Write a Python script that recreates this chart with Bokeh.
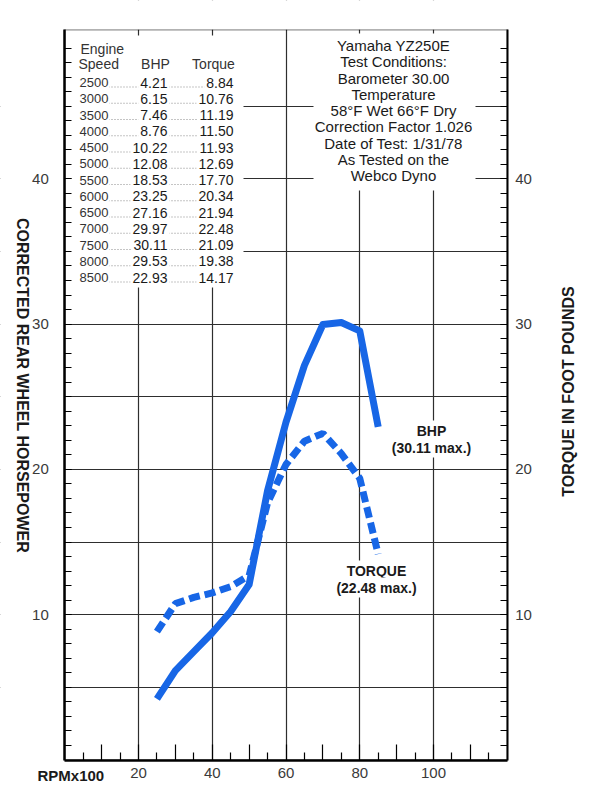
import math
from bokeh.plotting import figure
from bokeh.models import FixedTicker, LinearAxis, Label, Range1d, ColumnDataSource, BoxAnnotation
from bokeh.core.properties import value
from bokeh.embed import file_html
from bokeh.resources import INLINE

# ---------------- data ----------------
rpm_x100 = [25, 30, 35, 40, 45, 50, 55, 60, 65, 70, 75, 80, 85]
engine_speed = [2500, 3000, 3500, 4000, 4500, 5000, 5500, 6000, 6500, 7000, 7500, 8000, 8500]
bhp = [4.21, 6.15, 7.46, 8.76, 10.22, 12.08, 18.53, 23.25, 27.16, 29.97, 30.11, 29.53, 22.93]
torque = [8.84, 10.76, 11.19, 11.50, 11.93, 12.69, 17.70, 20.34, 21.94, 22.48, 21.09, 19.38, 14.17]

x_min, x_max = 0, 120
y_min, y_max = 0, 50.25
x_labeled_ticks = [20, 40, 60, 80, 100]
y_labeled_ticks = [10, 20, 30, 40]

info_lines = [
    "Yamaha YZ250E",
    "Test Conditions:",
    "Barometer 30.00",
    "Temperature",
    "58\u00b0F Wet 66\u00b0F Dry",
    "Correction Factor 1.026",
    "Date of Test: 1/31/78",
    "As Tested on the",
    "Webco Dyno",
]
bhp_note = ["BHP", "(30.11 max.)"]
torque_note = ["TORQUE", "(22.48 max.)"]
x_title = "RPMx100"
left_title = "CORRECTED REAR WHEEL HORSEPOWER"
right_title = "TORQUE IN FOOT POUNDS"

# ---------------- style ----------------
FONT = "Liberation Sans"
BLUE = "#1766e6"
GRID = "#2e2e2e"
INK = "#1a1a1a"
W, H = 584, 784

# picture-pixel -> data helpers (placing annotations only)
X0_PX, PX_PER_X = 64.25, 3.6875
Y0_PX, PX_PER_Y = 759.5, 14.53
def dx(px):
    return (px - X0_PX) / PX_PER_X
def dy(py):
    return (Y0_PX - py) / PX_PER_Y

# the frame covers the whole canvas; axes sit at fixed data locations
p = figure(width=W, height=H, x_range=Range1d(dx(0), dx(W)), y_range=Range1d(dy(H), dy(0)),
           output_backend="svg", toolbar_location=None, min_border=0)
p.background_fill_color = "white"
p.border_fill_color = "white"
p.outline_line_color = None

# grids
p.xgrid.ticker = FixedTicker(ticks=x_labeled_ticks)
p.ygrid.ticker = FixedTicker(ticks=list(range(5, 50, 5)))
for g in (p.xgrid, p.ygrid):
    g.grid_line_color = GRID
    g.grid_line_width = 1.2

# white masks outside the chart area (hide grid lines there)
XL, XR, YB, YT = dx(0), dx(W), dy(H), dy(0)
p.quad(left=[XL, x_max, XL, XL], right=[x_min, XR, XR, XR],
       bottom=[YB, YB, YB, y_max], top=[YT, YT, y_min, YT],
       fill_color="white", line_color=None)

# bottom axis
xa = p.xaxis[0]
xa.fixed_location = y_min
xa.bounds = (x_min, x_max)
xa.ticker = FixedTicker(ticks=list(range(10, 120, 10)), minor_ticks=list(range(5, 120, 10)))
xa.major_label_overrides = {t: "" for t in range(10, 120, 10) if t not in x_labeled_ticks}
xa.major_tick_in = 16
xa.major_tick_out = 0
xa.minor_tick_in = 8
xa.minor_tick_out = 0
xa.axis_line_width = 2.5
xa.major_label_standoff = 8

# left axis
ya = p.yaxis[0]
ya.fixed_location = x_min
ya.bounds = (y_min, y_max)
ya.ticker = FixedTicker(ticks=y_labeled_ticks, minor_ticks=list(range(1, 50)))
ya.major_tick_in = 7
ya.major_tick_out = 0
ya.minor_tick_in = 7
ya.minor_tick_out = 0
ya.axis_line_width = 2.5
ya.major_label_standoff = 16

# right axis
ra = LinearAxis(ticker=FixedTicker(ticks=y_labeled_ticks, minor_ticks=list(range(1, 50))),
                fixed_location=x_max, bounds=(y_min, y_max))
ra.major_tick_in = 7
ra.major_tick_out = 0
ra.minor_tick_in = 7
ra.minor_tick_out = 0
ra.axis_line_width = 2
ra.major_label_standoff = 8
p.add_layout(ra, "right")

for ax in (xa, ya, ra):
    ax.axis_line_color = "black"
    ax.major_tick_line_color = "black"
    ax.minor_tick_line_color = "black"
    ax.major_tick_line_width = 1.2
    ax.minor_tick_line_width = 1.2
    ax.major_label_text_font = FONT
    ax.major_label_text_font_size = "15px"
    ax.major_label_text_color = "#3a3a3a"

# chart border (top and right edges)
p.add_layout(BoxAnnotation(left=x_min, right=x_max, bottom=y_min, top=y_max,
                           fill_alpha=0, line_color="black", line_width=1.6))

# white panels behind the table and the test-conditions box
p.quad(left=[x_min], right=[dx(243)], bottom=[dy(287)], top=[dy(35)],
       fill_color="white", line_color=None)
p.quad(left=[dx(313)], right=[dx(475)], bottom=[dy(190)], top=[dy(33)],
       fill_color="white", line_color=None)

# curves
p.line(rpm_x100, bhp, line_color=BLUE, line_width=7, line_join="round")
p.line(rpm_x100, torque, line_color=BLUE, line_width=7, line_dash="11 5")

# ---------------- table ----------------
n = len(engine_speed)
row_step = 16.25 / PX_PER_Y
row_y = [dy(82) - i * row_step for i in range(n)]
tbl = ColumnDataSource(dict(
    y=row_y,
    speed=[str(s) for s in engine_speed],
    bhp=["%.2f" % v for v in bhp],
    tq=["%.2f" % v for v in torque],
    lx0=[dx(108)] * n, lx1=[dx(234)] * n,
    ly=[v - 4.5 / PX_PER_Y for v in row_y],
    xs=[dx(78)] * n, xb=[dx(169)] * n, xt=[dx(235)] * n,
))
p.segment(x0="lx0", y0="ly", x1="lx1", y1="ly", source=tbl,
          line_color="#8a8a8a", line_width=1.2, line_dash="1 2")
p.text(x="xs", y="y", text="speed", source=tbl, text_font=value(FONT),
       text_font_size="13px", text_color="#333333", text_align="left", text_baseline="middle",
       background_fill_color="white", padding=1)
p.text(x="xb", y="y", text="bhp", source=tbl, text_font=value(FONT),
       text_font_size="14px", text_color=INK, text_align="right", text_baseline="middle",
       background_fill_color="white", padding=2)
p.text(x="xt", y="y", text="tq", source=tbl, text_font=value(FONT),
       text_font_size="14px", text_color=INK, text_align="right", text_baseline="middle",
       background_fill_color="white", padding=2)

hdr = [("Engine", dx(80), dy(48), "left"), ("Speed", dx(78), dy(63), "left"),
       ("BHP", dx(155), dy(63), "center"), ("Torque", dx(213), dy(63), "center")]
for t, x, y, al in hdr:
    p.add_layout(Label(x=x, y=y, text=t, text_font=FONT, text_font_size="14px",
                       text_color="#333333", text_align=al, text_baseline="middle"))

# ---------------- test conditions ----------------
for i, t in enumerate(info_lines):
    p.add_layout(Label(x=dx(393), y=dy(45 + i * 16.25), text=t, text_font=FONT,
                       text_font_size="15px", text_color=INK, text_align="center",
                       text_baseline="middle"))

# ---------------- curve notes ----------------
for (t, cx, cy) in [(bhp_note[0], 431, 430), (bhp_note[1], 431, 447),
                    (torque_note[0], 376, 570), (torque_note[1], 376, 587)]:
    p.add_layout(Label(x=dx(cx), y=dy(cy), text=t, text_font=FONT, text_font_size="14px",
                       text_font_style="bold", text_color=INK, text_align="center",
                       text_baseline="middle", background_fill_color="white", padding=2))

# ---------------- titles ----------------
p.add_layout(Label(x=dx(37), y=dy(775), text=x_title, text_font=FONT, text_font_size="15px",
                   text_font_style="bold", text_color=INK, text_align="left",
                   text_baseline="middle"))
p.add_layout(Label(x=dx(22), y=dy(385), text=left_title, text_font=FONT, text_font_size="16px",
                   text_font_style="bold", text_color=INK, text_align="center",
                   text_baseline="middle", angle=-math.pi / 2))
p.add_layout(Label(x=dx(568), y=dy(391), text=right_title, text_font=FONT, text_font_size="16px",
                   text_font_style="bold", text_color=INK, text_align="center",
                   text_baseline="middle", angle=math.pi / 2))

open("out.html", "w").write(file_html(p, INLINE))
